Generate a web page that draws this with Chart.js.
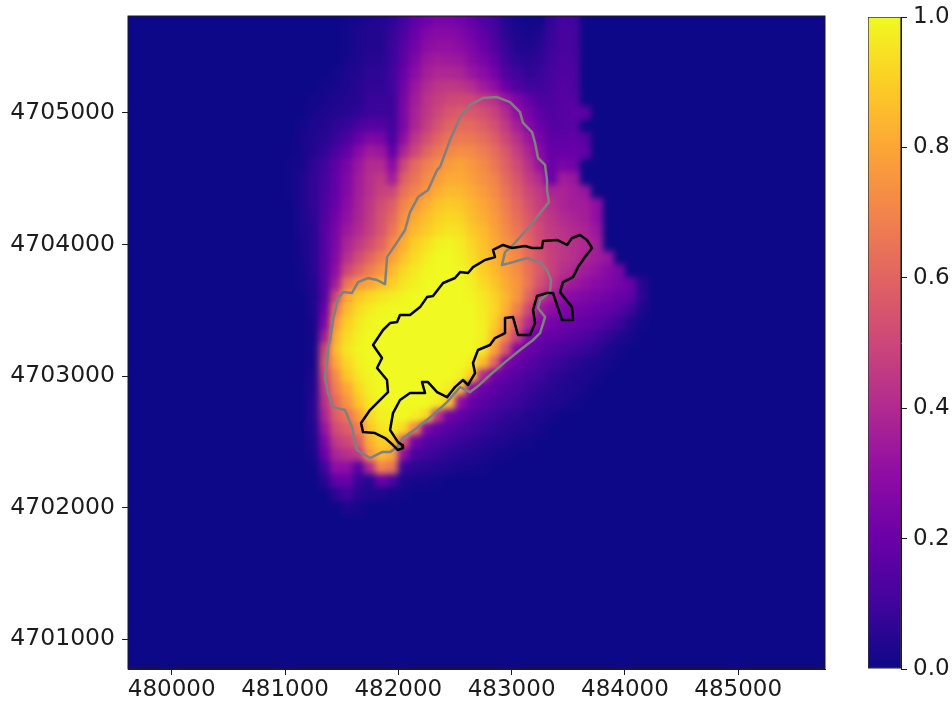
<!DOCTYPE html>
<html>
<head>
<meta charset="utf-8">
<script src="https://cdn.jsdelivr.net/npm/chart.js@4/dist/chart.umd.min.js"></script>
<style>
  body { margin: 0; background: #fff; }
  canvas { position: absolute; top: 0; }
</style>
</head>
<body>
<canvas id="map" width="952" height="702" style="left:0"></canvas>
<canvas id="bar" width="112" height="702" style="left:840px"></canvas>
<script>
const xTicks = [480000, 481000, 482000, 483000, 484000, 485000];
const yTicks = [4701000, 4702000, 4703000, 4704000, 4705000];
const barTicks = [0, 0.2, 0.4, 0.6, 0.8, 1];

// plasma colormap
const plasma = ["#0d0887", "#41049d", "#6a00a8", "#8f0da4", "#b12a90", "#cc4778", "#e16462", "#f2844b", "#fca636", "#fcce25", "#f0f921"];

// cell centres, metres
const xCols = [480950, 481050, 481150, 481250, 481350, 481450, 481550, 481650, 481750, 481850, 481950, 482050, 482150, 482250, 482350, 482450, 482550, 482650, 482750, 482850, 482950, 483050, 483150, 483250, 483350, 483450, 483550, 483650, 483750, 483850, 483950, 484050, 484150, 484250, 484350, 484450];
const yRows = [4705700, 4705600, 4705500, 4705400, 4705300, 4705200, 4705100, 4705000, 4704900, 4704800, 4704700, 4704600, 4704500, 4704400, 4704300, 4704200, 4704100, 4704000, 4703900, 4703800, 4703700, 4703600, 4703500, 4703400, 4703300, 4703200, 4703100, 4703000, 4702900, 4702800, 4702700, 4702600, 4702500, 4702400, 4702300, 4702200, 4702100, 4702000];

// one row per yRows entry, percent of the 0-1 range
const heat = [
  [0,0,0,0,0,0,1,2,3,4,6,10,17,21,24,24,22,18,14,10,5,2,1,1,7,11,10,0,0,0,0,0,0,0,0,0],
  [0,0,0,0,0,0,1,3,4,4,8,13,20,26,28,28,26,22,17,12,6,3,2,3,8,12,11,0,0,0,0,0,0,0,0,0],
  [0,0,0,0,0,0,1,3,4,4,9,15,22,29,31,31,29,25,20,14,8,4,3,5,9,12,11,0,0,0,0,0,0,0,0,0],
  [0,0,0,0,0,0,2,3,5,5,9,17,25,33,35,34,33,28,24,18,10,6,5,7,10,13,12,0,0,0,0,0,0,0,0,0],
  [0,0,0,0,0,1,3,4,6,6,10,20,29,36,39,39,38,33,29,23,14,10,7,8,11,14,13,0,0,0,0,0,0,0,0,0],
  [0,0,0,0,1,2,3,5,7,7,10,22,33,40,44,45,44,41,35,30,20,14,10,10,12,15,13,0,0,0,0,0,0,0,0,0],
  [0,0,0,1,2,3,4,5,8,8,9,24,35,43,47,50,51,50,46,42,33,25,18,13,13,15,15,0,0,0,0,0,0,0,0,0],
  [0,0,0,2,3,4,5,7,9,9,9,25,37,44,50,55,57,56,53,48,40,30,23,17,14,15,17,17,0,0,0,0,0,0,0,0],
  [0,0,1,3,4,6,8,12,15,15,10,25,38,47,54,60,62,62,58,53,45,36,27,20,15,15,16,0,0,0,0,0,0,0,0,0],
  [0,0,2,4,5,8,12,20,25,24,12,30,44,52,60,65,67,66,63,58,50,42,33,24,17,17,18,15,0,0,0,0,0,0,0,0],
  [0,0,2,4,7,12,18,28,35,33,18,38,50,60,66,71,73,72,68,63,56,47,38,28,19,19,20,18,0,0,0,0,0,0,0,0],
  [0,1,2,6,10,17,24,33,40,40,28,50,62,68,73,77,79,76,72,66,59,51,42,32,20,24,22,0,0,0,0,0,0,0,0,0],
  [0,1,3,7,11,18,26,35,42,45,35,58,65,72,77,81,81,78,74,70,62,55,46,40,20,35,33,0,0,0,0,0,0,0,0,0],
  [0,1,3,7,12,18,27,36,42,48,50,64,70,76,82,85,84,81,77,72,65,58,50,45,38,38,35,33,0,0,0,0,0,0,0,0],
  [0,0,3,7,13,20,29,37,44,52,58,70,76,82,87,89,88,84,80,75,68,61,53,47,42,38,36,35,30,0,0,0,0,0,0,0],
  [0,0,3,6,14,22,31,38,45,54,62,74,81,86,90,92,91,86,82,77,70,63,56,49,44,40,38,36,30,0,0,0,0,0,0,0],
  [0,0,3,5,15,24,34,40,47,55,66,77,85,89,93,95,94,89,85,79,72,66,58,51,46,43,40,38,33,0,0,0,0,0,0,0],
  [0,0,2,5,15,25,38,45,52,60,72,82,90,94,98,99,97,92,87,81,75,69,60,52,47,44,42,39,36,0,0,0,0,0,0,0],
  [0,0,2,5,15,27,42,52,60,68,78,87,93,97,100,100,98,94,88,83,77,71,62,54,48,44,42,38,35,32,0,0,0,0,0,0],
  [0,0,1,5,15,30,50,60,68,75,85,92,96,99,100,100,99,96,90,85,79,73,64,56,48,42,39,35,32,28,24,0,0,0,0,0],
  [0,0,1,4,15,35,65,75,80,85,90,95,98,100,100,100,100,98,93,88,81,75,65,53,45,38,34,31,28,26,23,20,5,0,0,0],
  [0,0,0,3,15,50,80,88,92,95,97,99,100,100,100,100,100,99,96,91,84,75,60,45,37,31,28,26,24,22,20,17,6,0,0,0],
  [0,0,0,3,20,65,85,93,97,99,100,100,100,100,100,100,100,100,97,92,83,68,50,35,30,25,23,22,20,18,15,10,3,0,0,0],
  [0,0,0,2,25,75,90,96,99,100,100,100,100,100,100,100,100,100,98,90,75,58,40,28,23,21,20,18,16,13,9,4,1,0,0,0],
  [0,0,0,2,35,82,93,98,100,100,100,100,100,100,100,100,100,100,98,85,68,48,25,20,18,17,15,13,10,7,4,2,0,0,0,0],
  [0,0,0,2,50,85,95,99,100,100,100,100,100,100,100,100,100,100,96,78,55,25,20,17,14,12,10,8,6,3,2,0,0,0,0,0],
  [0,0,0,2,55,80,92,98,100,100,100,100,100,100,100,100,100,97,85,60,25,20,16,13,10,8,6,4,3,2,0,0,0,0,0,0],
  [0,0,0,3,50,72,88,96,99,100,100,100,100,100,100,100,98,90,40,22,18,15,12,10,7,5,4,3,2,0,0,0,0,0,0,0],
  [0,0,0,4,45,68,80,92,98,100,100,100,100,100,100,97,85,30,20,17,14,12,9,7,5,4,3,2,0,0,0,0,0,0,0,0],
  [0,0,0,5,42,62,75,88,96,99,100,100,100,100,97,88,30,20,16,13,11,9,7,5,4,3,2,0,0,0,0,0,0,0,0,0],
  [0,0,0,5,38,58,65,78,92,98,99,100,98,92,45,22,18,14,11,9,7,6,4,3,2,0,0,0,0,0,0,0,0,0,0,0],
  [0,0,0,4,32,52,58,68,88,95,97,92,70,25,18,15,12,10,8,6,5,4,3,2,0,0,0,0,0,0,0,0,0,0,0,0],
  [0,0,0,3,25,45,50,58,82,90,88,55,22,15,13,10,8,7,5,4,3,2,1,0,0,0,0,0,0,0,0,0,0,0,0,0],
  [0,0,0,2,20,38,42,45,75,85,80,30,12,10,8,6,5,4,3,2,1,0,0,0,0,0,0,0,0,0,0,0,0,0,0,0],
  [0,0,0,0,10,30,30,15,40,70,65,8,6,5,4,3,2,2,1,0,0,0,0,0,0,0,0,0,0,0,0,0,0,0,0,0],
  [0,0,0,0,5,18,20,8,5,20,12,3,2,2,1,0,0,0,0,0,0,0,0,0,0,0,0,0,0,0,0,0,0,0,0,0],
  [0,0,0,0,0,6,10,5,3,3,2,1,0,0,0,0,0,0,0,0,0,0,0,0,0,0,0,0,0,0,0,0,0,0,0,0],
  [0,0,0,0,0,0,3,2,0,0,0,0,0,0,0,0,0,0,0,0,0,0,0,0,0,0,0,0,0,0,0,0,0,0,0,0]
];

// grey outline
const greyX = [482368, 482456, 482545, 482633, 482748, 482871, 482986, 483074, 483101, 483180, 483207, 483233, 483295, 483312, 483312, 483330, 483251, 483145, 483012, 482942, 482915, 483012, 483136, 483251, 483312, 483348, 483339, 483251, 483233, 483295, 483251, 483189, 483074, 482942, 482809, 482703, 482633, 482545, 482430, 482306, 482165, 482041, 481989, 481927, 481856, 481750, 481635, 481591, 481530, 481424, 481380, 481353, 481371, 481380, 481397, 481424, 481468, 481512, 481591, 481644, 481733, 481812, 481883, 481900, 481989, 482059, 482103, 482174, 482262, 482342, 482368];
const greyY = [4704588, 4704794, 4704968, 4705060, 4705113, 4705120, 4705082, 4705006, 4704923, 4704854, 4704771, 4704657, 4704604, 4704490, 4704414, 4704322, 4704239, 4704125, 4703996, 4703942, 4703844, 4703866, 4703897, 4703866, 4703806, 4703730, 4703638, 4703578, 4703517, 4703448, 4703327, 4703274, 4703198, 4703106, 4703008, 4702924, 4702878, 4702916, 4702802, 4702704, 4702605, 4702529, 4702460, 4702422, 4702422, 4702377, 4702438, 4702612, 4702742, 4702764, 4702871, 4702992, 4703099, 4703220, 4703274, 4703426, 4703593, 4703638, 4703631, 4703714, 4703745, 4703730, 4703699, 4703904, 4704018, 4704110, 4704246, 4704360, 4704414, 4704566, 4704588];

// black outline
const blackX = [482041, 481997, 481953, 481883, 481794, 481688, 481671, 481750, 481838, 481909, 481900, 481812, 481856, 481777, 481865, 481927, 481989, 482015, 482103, 482192, 482253, 482306, 482395, 482500, 482545, 482615, 482659, 482765, 482853, 482836, 482924, 483004, 483118, 483180, 483268, 483277, 483401, 483489, 483533, 483604, 483665, 483710, 483648, 483586, 483542, 483454, 483427, 483533, 483542, 483445, 483365, 483312, 483224, 483189, 483207, 483162, 483056, 483012, 482942, 482942, 482853, 482809, 482703, 482659, 482677, 482615, 482571, 482500, 482430, 482342, 482262, 482209, 482236, 482103, 482015, 481953, 481927, 481997, 482033, 482041];
const blackY = [4702453, 4702438, 4702476, 4702529, 4702567, 4702574, 4702643, 4702742, 4702818, 4702878, 4702970, 4703061, 4703137, 4703236, 4703350, 4703403, 4703410, 4703464, 4703464, 4703524, 4703600, 4703608, 4703707, 4703745, 4703790, 4703783, 4703828, 4703882, 4703904, 4703958, 4703996, 4703973, 4703988, 4703973, 4703973, 4704026, 4704034, 4703996, 4704049, 4704072, 4704034, 4703973, 4703904, 4703828, 4703752, 4703714, 4703638, 4703524, 4703426, 4703426, 4703631, 4703631, 4703608, 4703502, 4703403, 4703312, 4703312, 4703448, 4703441, 4703327, 4703289, 4703236, 4703198, 4703099, 4703023, 4702932, 4702970, 4702916, 4702840, 4702878, 4702954, 4702954, 4702871, 4702871, 4702818, 4702719, 4702590, 4702498, 4702476, 4702453];

const labelFont = { family: "'DejaVu Sans'", size: 23 };
const inkColor = "#1c1c1c";

function toRgb(hex) {
  return [1, 3, 5].map(i => parseInt(hex.substr(i, 2), 16));
}

function plasmaColor(v) {
  const p = Math.min(v, 0.9999) * (plasma.length - 1);
  const i = Math.floor(p);
  const a = toRgb(plasma[i]), b = toRgb(plasma[i + 1]);
  const c = a.map((n, k) => Math.round(n + (b[k] - n) * (p - i)));
  return `rgb(${c[0]},${c[1]},${c[2]})`;
}

// one small canvas per value, used as the point style of a heat cell
const cellCache = {};
function cellImage(v) {
  if (!cellCache[v]) {
    const c = document.createElement("canvas");
    c.width = 12;
    c.height = 14;
    const g = c.getContext("2d");
    g.fillStyle = plasmaColor(v);
    g.fillRect(0, 0, 12, 14);
    cellCache[v] = c;
  }
  return cellCache[v];
}

const cells = [];
heat.forEach((row, r) => {
  row.forEach((v, c) => {
    if (v > 0) cells.push({ x: xCols[c], y: yRows[r], v: v / 100 });
  });
});

function outline(xs, ys, color, order) {
  return {
    type: "scatter",
    data: xs.map((x, i) => ({ x: x, y: ys[i] })),
    showLine: true,
    borderColor: color,
    borderWidth: 2.5,
    borderJoinStyle: "round",
    pointRadius: 0,
    tension: 0,
    order: order
  };
}

// background colour and the frame of the map, soft edge on the heat cells
const framePlugin = {
  id: "frame",
  beforeDatasetsDraw(chart) {
    const a = chart.chartArea;
    chart.ctx.fillStyle = plasma[0];
    chart.ctx.fillRect(a.left, a.top, a.width, a.height);
  },
  afterDatasetDraw(chart, args) {
    if (args.index !== 0) return;
    const a = chart.chartArea;
    const ctx = chart.ctx;
    ctx.save();
    ctx.beginPath();
    ctx.rect(a.left, a.top, a.width, a.height);
    ctx.clip();
    ctx.filter = "blur(3px)";
    ctx.drawImage(chart.canvas, 0, 0);
    ctx.restore();
  },
  afterDraw(chart) {
    const a = chart.chartArea;
    chart.ctx.strokeStyle = inkColor;
    chart.ctx.lineWidth = 1;
    chart.ctx.strokeRect(a.left, a.top, a.width, a.height);
  }
};

new Chart(document.getElementById("map"), {
  type: "scatter",
  plugins: [framePlugin],
  data: {
    datasets: [
      {
        data: cells,
        pointStyle: ctx => cellImage(ctx.raw ? ctx.raw.v : 0.5),
        pointRadius: 8,
        pointHoverRadius: 8,
        order: 3
      },
      outline(greyX, greyY, "#808080", 2),
      outline(blackX, blackY, "#000000", 1)
    ]
  },
  options: {
    responsive: false,
    animation: false,
    events: [],
    layout: { padding: { left: 0, top: 16, right: 127, bottom: 0 } },
    plugins: { legend: { display: false }, tooltip: { enabled: false } },
    scales: {
      x: {
        type: "linear",
        min: 479614,
        max: 485766,
        afterFit: s => { s.height = 33; s.paddingLeft = 0; s.paddingRight = 0; },
        afterBuildTicks: s => { s.ticks = xTicks.map(v => ({ value: v })); },
        grid: { drawOnChartArea: false, tickLength: 6, color: inkColor },
        border: { color: inkColor },
        ticks: { font: labelFont, color: inkColor, padding: 1, maxRotation: 0, autoSkip: false, callback: v => String(v) }
      },
      y: {
        type: "linear",
        min: 4700774,
        max: 4705736,
        afterFit: s => { s.width = 128; s.paddingTop = 0; s.paddingBottom = 0; },
        afterBuildTicks: s => { s.ticks = yTicks.map(v => ({ value: v })); },
        grid: { drawOnChartArea: false, tickLength: 6, color: inkColor },
        border: { color: inkColor },
        ticks: { font: { family: labelFont.family, size: 23.5 }, color: inkColor, padding: 7, autoSkip: false, callback: v => String(v) }
      }
    }
  }
});

// colour bar
new Chart(document.getElementById("bar"), {
  type: "bar",
  data: {
    labels: [""],
    datasets: [{
      data: [1],
      barPercentage: 1,
      categoryPercentage: 1,
      borderWidth: 1,
      borderColor: "#333333",
      borderSkipped: false,
      backgroundColor: c => {
        const a = c.chart.chartArea;
        if (!a) return plasma[0];
        const g = c.chart.ctx.createLinearGradient(0, a.bottom, 0, a.top);
        plasma.forEach((col, i) => g.addColorStop(i / (plasma.length - 1), col));
        return g;
      }
    }]
  },
  options: {
    responsive: false,
    animation: false,
    events: [],
    layout: { padding: { left: 28, top: 17, right: 0, bottom: 33 } },
    plugins: { legend: { display: false }, tooltip: { enabled: false } },
    scales: {
      x: { display: false },
      y: {
        position: "right",
        min: 0,
        max: 1,
        afterFit: s => { s.width = 51; s.paddingTop = 0; s.paddingBottom = 0; },
        afterBuildTicks: s => { s.ticks = barTicks.map(v => ({ value: v })); },
        grid: { drawOnChartArea: false, tickLength: 6, color: inkColor },
        border: { color: inkColor },
        ticks: { font: labelFont, color: inkColor, padding: 6, callback: v => v.toFixed(1) }
      }
    }
  }
});
</script>
</body>
</html>
